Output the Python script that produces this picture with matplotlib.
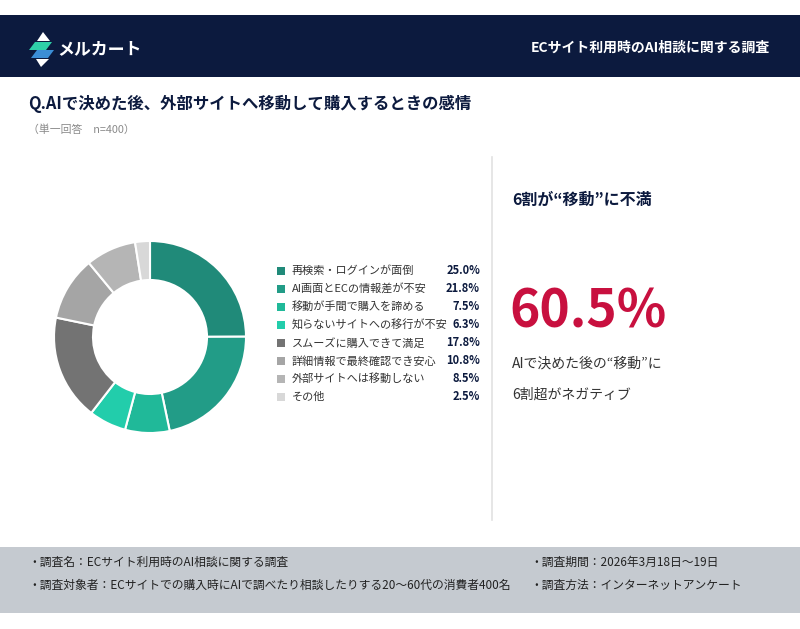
import matplotlib
matplotlib.use("Agg")
import matplotlib.pyplot as plt
from matplotlib.patches import Rectangle, Polygon
from matplotlib.lines import Line2D

plt.rcParams['font.family'] = ['Noto Sans CJK JP', 'DejaVu Sans']

# ---- data ----
categories = ["再検索・ログインが面倒", "AI画面とECの情報差が不安", "移動が手間で購入を諦める",
              "知らないサイトへの移行が不安", "スムーズに購入できて満足", "詳細情報で最終確認でき安心",
              "外部サイトへは移動しない", "その他"]
values = [25.0, 21.8, 7.5, 6.3, 17.8, 10.8, 8.5, 2.5]
colors = ["#208a79", "#229c87", "#20b999", "#22cdab", "#737373", "#a5a5a5", "#b5b5b5", "#d8d8d8"]
headline_value = "60.5%"
brand = "メルカート"
header_title = "ECサイト利用時のAI相談に関する調査"
question = "Q.AIで決めた後、外部サイトへ移動して購入するときの感情"
subtitle = "（単一回答　n=400）"
insight_title = "6割が“移動”に不満"
insight_lines = ["AIで決めた後の“移動”に", "6割超がネガティブ"]
footer_left = ["・調査名：ECサイト利用時のAI相談に関する調査",
               "・調査対象者：ECサイトでの購入時にAIで調べたり相談したりする20〜60代の消費者400名"]
footer_right = ["・調査期間：2026年3月18日〜19日", "・調査方法：インターネットアンケート"]

W, H = 800, 629
fig = plt.figure(figsize=(W / 100, H / 100), dpi=100)
fig.patch.set_facecolor("white")

def fx(x):
    return x / W

def fy(y):
    return 1 - y / H

def txt(x, y, s, **kw):
    fig.text(fx(x), fy(y), s, **kw)

# header band
fig.patches.append(Rectangle((0, fy(77)), 1, (77 - 15) / H, transform=fig.transFigure,
                             facecolor="#0c1a3e", edgecolor="none", zorder=0))
# footer band
fig.patches.append(Rectangle((0, fy(613)), 1, (613 - 547) / H, transform=fig.transFigure,
                             facecolor="#c5cad0", edgecolor="none", zorder=0))

# logo
def poly(pts, color):
    fig.patches.append(Polygon([(fx(a), fy(b)) for a, b in pts], closed=True,
                               transform=fig.transFigure, facecolor=color, edgecolor="none", zorder=1))

poly([(43, 32), (50, 41), (37, 41)], "white")
poly([(29, 50), (35, 42), (52, 42), (46, 50)], "#2fd0a8")
poly([(31, 58), (37, 50), (54, 50), (48, 58)], "#3b8ed6")
poly([(36, 59), (49, 59), (41, 67)], "white")

txt(57, 49, brand, color="white", fontsize=12.2, fontweight="bold", va="center", ha="left")
txt(770, 48, header_title, color="white", fontsize=10, fontweight="bold", va="center", ha="right")

# title
txt(28, 104, question, color="#0c1a3e", fontsize=11.8, fontweight="bold", va="center", ha="left")
txt(28, 130, subtitle, color="#8a8a8a", fontsize=7.8, va="center", ha="left")

# divider
fig.lines.append(Line2D([fx(492), fx(492)], [fy(157), fy(520)], transform=fig.transFigure,
                        color="#e2e2e2", linewidth=1.2))

# donut
ax = fig.add_axes([fx(50), fy(437), 200 / W, 200 / H])
ax.pie(values, colors=colors, startangle=90, counterclock=False, radius=0.96,
       wedgeprops=dict(width=0.39, edgecolor="white", linewidth=1.5))
ax.set_xlim(-1, 1)
ax.set_ylim(-1, 1)
ax.set_aspect("equal")
ax.axis("off")

# legend
for i, (c, v, col) in enumerate(zip(categories, values, colors)):
    y = 271 + 18 * i
    fig.patches.append(Rectangle((fx(277), fy(y + 4)), 8 / W, 8 / H, transform=fig.transFigure,
                                 facecolor=col, edgecolor="none"))
    txt(292, y, c, color="#333333", fontsize=8, va="center", ha="left")
    txt(480, y, f"{v:.1f}%", color="#0c1a3e", fontsize=8, fontweight="bold", va="center", ha="right")

# insight panel
txt(512, 200, insight_title, color="#0c1a3e", fontsize=11.5, fontweight="bold", va="center", ha="left")
txt(509, 312, headline_value, color="#c8103f", fontsize=37, fontweight="bold", va="center", ha="left")
txt(512, 364, insight_lines[0], color="#333333", fontsize=10, va="center", ha="left")
txt(512, 395, insight_lines[1], color="#333333", fontsize=10, va="center", ha="left")

# footer
for i, s in enumerate(footer_left):
    txt(28, 562 + 23 * i, s, color="#222222", fontsize=8.5, va="center", ha="left")
for i, s in enumerate(footer_right):
    txt(530, 562 + 23 * i, s, color="#222222", fontsize=8.5, va="center", ha="left")

fig.savefig("out.png", dpi=100, facecolor="white")
